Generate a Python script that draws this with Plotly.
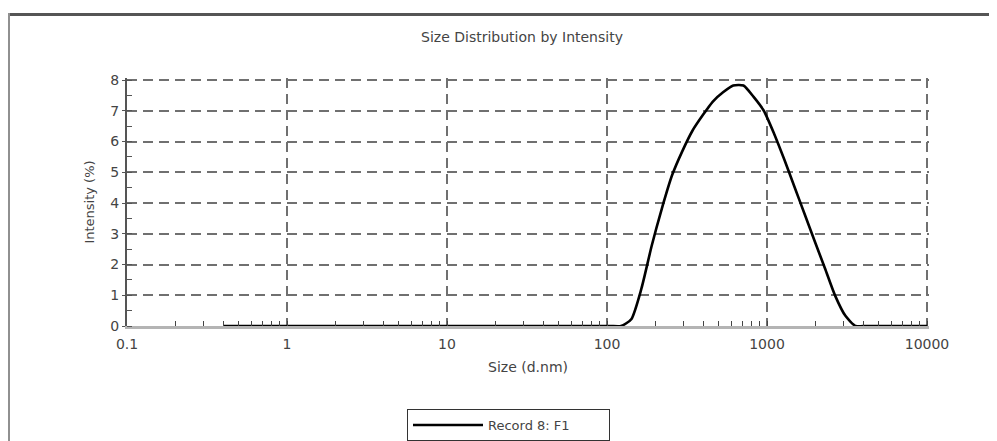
import plotly.graph_objects as go

# Size bins (d.nm) and intensity (%)
sizes = [0.4, 0.4632, 0.5365, 0.6213, 0.7195, 0.8332, 0.9649, 1.117, 1.294, 1.499,
         1.736, 2.010, 2.328, 2.696, 3.122, 3.615, 4.187, 4.849, 5.615, 6.503,
         7.531, 8.721, 10.10, 11.70, 13.54, 15.69, 18.17, 21.04, 24.36, 28.21,
         32.67, 37.84, 43.82, 50.75, 58.77, 68.06, 78.82, 91.28, 105.7, 122.4,
         141.8, 164.2, 190.1, 220.2, 255.0, 295.3, 342.0, 396.1, 458.7, 531.2,
         615.1, 712.4, 825.0, 955.4, 1106, 1281, 1484, 1718, 1990, 2305,
         2669, 3091, 3580, 4145, 4801, 5560, 6439, 7456, 8635, 10000]
intensity = [0, 0, 0, 0, 0, 0, 0, 0, 0, 0,
             0, 0, 0, 0, 0, 0, 0, 0, 0, 0,
             0, 0, 0, 0, 0, 0, 0, 0, 0, 0,
             0, 0, 0, 0, 0, 0, 0, 0, 0, 0,
             0.22, 1.22, 2.6, 3.82, 4.9, 5.68, 6.35, 6.85, 7.3, 7.6,
             7.82, 7.82, 7.45, 7.0, 6.26, 5.42, 4.53, 3.64, 2.75, 1.87,
             0.98, 0.33, 0, 0, 0, 0, 0, 0, 0, 0]

x_tickvals = [0.1, 1, 10, 100, 1000, 10000]
x_ticktext = ["0.1", "1", "10", "100", "1000", "10000"]

title_text = "Size Distribution by Intensity"
x_title = "Size (d.nm)"
y_title = "Intensity (%)"
series_name = "Record 8: F1"

FONT = "DejaVu Sans"
TXT = "#444444"
GRID = "#707070"

fig = go.Figure()
fig.add_trace(go.Scatter(
    x=sizes, y=intensity, mode="lines", name=series_name,
    line=dict(color="black", width=2.6, shape="spline", smoothing=0.6),
    showlegend=True,
))

# page is offset by the 8px body margin; geometry below in figure pixels
OFF = 8
W, H = 989, 433
L, T = 119, 70
R = W - (929 - OFF)
B = H - (326 - OFF)
pw, ph = W - L - R, H - T - B

def px(x_page):
    return (x_page - OFF - L) / pw

def py(y_page):
    return (H - B - (y_page - OFF)) / ph

fig.update_layout(
    width=W, height=H,
    margin=dict(l=L, r=R, t=T, b=B, autoexpand=False),
    paper_bgcolor="white", plot_bgcolor="white",
    font=dict(family=FONT, size=13, color=TXT),
    title=dict(text=title_text, x=(522 - OFF) / W, xanchor="center",
               y=1 - (37 - OFF) / H, yanchor="middle",
               font=dict(family=FONT, size=14, color=TXT)),
    showlegend=True,
    legend=dict(x=px(407), y=py(425), xanchor="left", yanchor="middle",
                orientation="h", entrywidth=116, entrywidthmode="pixels",
                bordercolor="#333333", borderwidth=1, bgcolor="white",
                itemwidth=70, font=dict(family=FONT, size=13, color=TXT)),
    shapes=[
        dict(type="line", xref="paper", yref="paper", x0=px(8), x1=px(1010),
             y0=py(14.5), y1=py(14.5), line=dict(color="#555555", width=3)),
        dict(type="line", xref="paper", yref="paper", x0=px(8.5), x1=px(8.5),
             y0=py(13), y1=py(460), line=dict(color="#909090", width=3)),
    ],
)

fig.update_xaxes(
    type="log", range=[-1, 4.0125],
    tickmode="array", tickvals=x_tickvals, ticktext=x_ticktext,
    showline=True, linecolor="#b4b4b4", linewidth=3,
    ticks="inside", ticklen=5, tickcolor="#444444", tickwidth=1,
    showgrid=True, gridcolor=GRID, gridwidth=2, griddash="10px,6px",
    zeroline=False,
    minor=dict(ticks="inside", ticklen=5, tickcolor="#444444", tickwidth=1,
               dtick="D1", showgrid=False),
    tickfont=dict(family=FONT, size=14, color=TXT),
    ticklabelstandoff=3,
    title=dict(text=x_title, standoff=12, font=dict(family=FONT, size=14, color=TXT)),
    automargin=False,
)
fig.update_yaxes(
    range=[0, 8.065], dtick=1, tick0=0,
    showline=True, linecolor="#555555", linewidth=2,
    ticks="outside", ticklen=3, tickcolor="#555555", tickwidth=1,
    showgrid=True, gridcolor=GRID, gridwidth=2, griddash="10px,6px",
    zeroline=False,
    minor=dict(ticks="inside", ticklen=5, tickcolor="#555555", tickwidth=1,
               dtick=0.5, showgrid=False),
    tickfont=dict(family=FONT, size=14, color=TXT),
    title=dict(text=y_title, standoff=13, font=dict(family=FONT, size=13, color=TXT)),
    automargin=False,
)

fig.write_html("out.html")
